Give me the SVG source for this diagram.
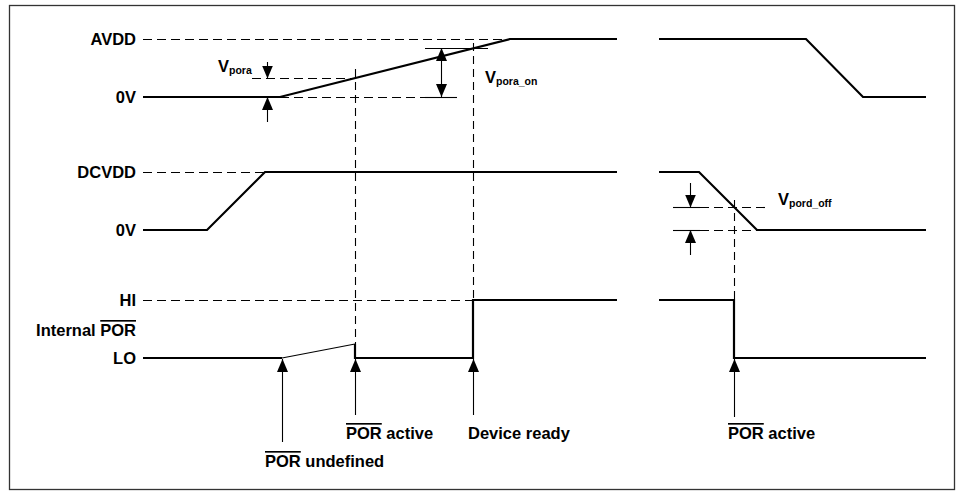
<svg xmlns="http://www.w3.org/2000/svg" width="960" height="492" viewBox="0 0 960 492">
<defs>
<style>
.frame{fill:none;stroke:#333;stroke-width:1.3}
.sig{fill:none;stroke:#000;stroke-width:2.2;stroke-linejoin:miter}
.thin{fill:none;stroke:#000;stroke-width:1.1}
.dash{fill:none;stroke:#000;stroke-width:1.1;stroke-dasharray:9 5}
.vdash{fill:none;stroke:#000;stroke-width:1.1;stroke-dasharray:8 5}
.lbl{font-family:"Liberation Sans",Arial,sans-serif;font-size:16.5px;font-weight:bold;fill:#000}
.sub{font-size:10.5px}
.arr{fill:none;stroke:#000;stroke-width:1.1;marker-end:url(#ah)}
</style>
<marker id="ah" viewBox="0 0 13 11" refX="13" refY="5.5" markerWidth="13" markerHeight="11" orient="auto" markerUnits="userSpaceOnUse">
<path d="M0,0 L13,5.5 L0,11 z" fill="#000"/>
</marker>
</defs>
<rect class="frame" x="9.5" y="5.5" width="945" height="484"/>

<g id="labels">
<text class="lbl" x="136" y="45" text-anchor="end">AVDD</text>
<text class="lbl" x="136" y="103" text-anchor="end">0V</text>
<text class="lbl" x="136" y="178" text-anchor="end">DCVDD</text>
<text class="lbl" x="136" y="236" text-anchor="end">0V</text>
<text class="lbl" x="136" y="306" text-anchor="end">HI</text>
<text class="lbl" x="136" y="336" text-anchor="end">Internal <tspan style="text-decoration:overline">POR</tspan></text>
<text class="lbl" x="136" y="364" text-anchor="end">LO</text>
</g>

<g id="avdd">
<path class="sig" d="M143,97 H280 L510,39 H617"/>
<path class="sig" d="M659,39 H806 L863,97 H926"/>
</g>

<g id="dcvdd">
<path class="sig" d="M143,230 H207 L265,172 H617"/>
<path class="sig" d="M659,172 H699 L757,230 H926"/>
</g>

<g id="por">
<path class="sig" d="M143,358 H282"/>
<path class="thin" d="M282,358 L355,344"/>
<path class="sig" d="M355,344 V358 H473 V300 H617"/>
<path class="sig" d="M659,300 H734 V358 H926"/>
</g>

<g id="connectors">
<path class="dash" d="M143,39.5 H510"/>
<path class="dash" d="M252,78.5 H355"/>
<path class="dash" d="M280,97.5 H425"/>
<path class="thin" d="M425,97.5 H457"/>
<path class="thin" d="M425,48.5 H488"/>
<path class="vdash" d="M355.5,69 V344"/>
<path class="vdash" d="M473.5,43 V300"/>
<path class="dash" d="M143,172.5 H265"/>
<path class="dash" d="M143,300.5 H473"/>
<path class="thin" d="M673,207.5 H700"/>
<path class="dash" d="M700,207.5 H770"/>
<path class="thin" d="M673,230.5 H700"/>
<path class="dash" d="M700,230.5 H757"/>
<path class="vdash" d="M734.5,200 V300"/>
<path class="arr" d="M267.5,62 V78.5"/>
<path class="arr" d="M267.5,122 V97"/>
<path class="arr" d="M441.5,72 V48"/>
<path class="arr" d="M441.5,72 V97"/>
<path class="arr" d="M690.5,183 V207.5"/>
<path class="arr" d="M690.5,255 V230"/>
<path class="arr" d="M282.5,442 V359"/>
<path class="arr" d="M355.5,415 V359"/>
<path class="arr" d="M473.5,415 V359"/>
<path class="arr" d="M734.5,417 V359"/>
</g>

<g id="annotations">
<text class="lbl" x="218" y="72">V<tspan class="sub" dy="2">pora</tspan></text>
<text class="lbl" x="485" y="83">V<tspan class="sub" dy="2">pora_on</tspan></text>
<text class="lbl" x="778" y="205">V<tspan class="sub" dy="2">pord_off</tspan></text>
<text class="lbl" x="265" y="467"><tspan style="text-decoration:overline">POR</tspan> undefined</text>
<text class="lbl" x="346" y="439"><tspan style="text-decoration:overline">POR</tspan> active</text>
<text class="lbl" x="468" y="439">Device ready</text>
<text class="lbl" x="728" y="439"><tspan style="text-decoration:overline">POR</tspan> active</text>
</g>
</svg>
